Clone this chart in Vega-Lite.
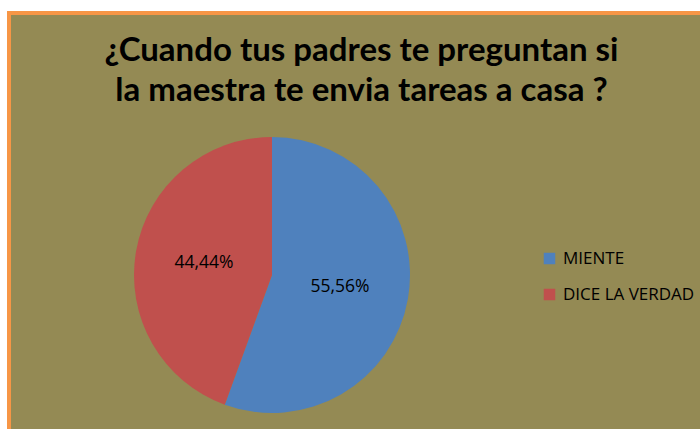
{
  "$schema": "https://vega.github.io/schema/vega-lite/v6.json",
  "width": 695,
  "height": 420,
  "autosize": {"type": "none"},
  "padding": {"left": 9, "top": 13, "right": -4, "bottom": -4},
  "background": "white",
  "view": {"fill": "#948A54", "stroke": "#F79646", "strokeWidth": 4},
  "config": {"view": {"fill": "#948A54", "stroke": "#F79646", "strokeWidth": 4}},
  "title": {
    "text": ["¿Cuando tus padres te preguntan si", "la maestra te envia tareas a casa ?"],
    "font": "Lato",
    "fontSize": 33,
    "fontWeight": "bold",
    "color": "black",
    "anchor": "middle",
    "baseline": "alphabetic",
    "offset": 0,
    "dy": 121,
    "dx": 5,
    "lineHeight": 40
  },
  "data": {
    "values": [
      {"respuesta": "MIENTE", "porcentaje": 55.56, "etiqueta": "55,56%"},
      {"respuesta": "DICE LA VERDAD", "porcentaje": 44.44, "etiqueta": "44,44%"}
    ]
  },
  "encoding": {
    "theta": {"field": "porcentaje", "type": "quantitative", "stack": true},
    "order": {"field": "porcentaje", "sort": "descending"}
  },
  "layer": [
    {
      "mark": {"type": "arc", "x": 263, "y": 262, "outerRadius": 138},
      "encoding": {
        "color": {
          "field": "respuesta",
          "type": "nominal",
          "scale": {"domain": ["MIENTE", "DICE LA VERDAD"], "range": ["#4F81BD", "#C0504D"]},
          "legend": {
            "orient": "none",
            "legendX": 532,
            "legendY": 237,
            "title": null,
            "symbolType": "square",
            "symbolSize": 132,
            "symbolStrokeWidth": 0,
            "labelFont": "Open Sans",
            "labelFontSize": 17,
            "labelColor": "black",
            "rowPadding": 18,
            "labelOffset": 5,
            "padding": 0
          }
        }
      }
    },
    {
      "mark": {"type": "text", "x": 263, "y": 262, "radius": 69, "font": "Open Sans", "fontSize": 17.5},
      "encoding": {
        "text": {"field": "etiqueta"},
        "color": {"value": "black"}
      }
    }
  ]
}
